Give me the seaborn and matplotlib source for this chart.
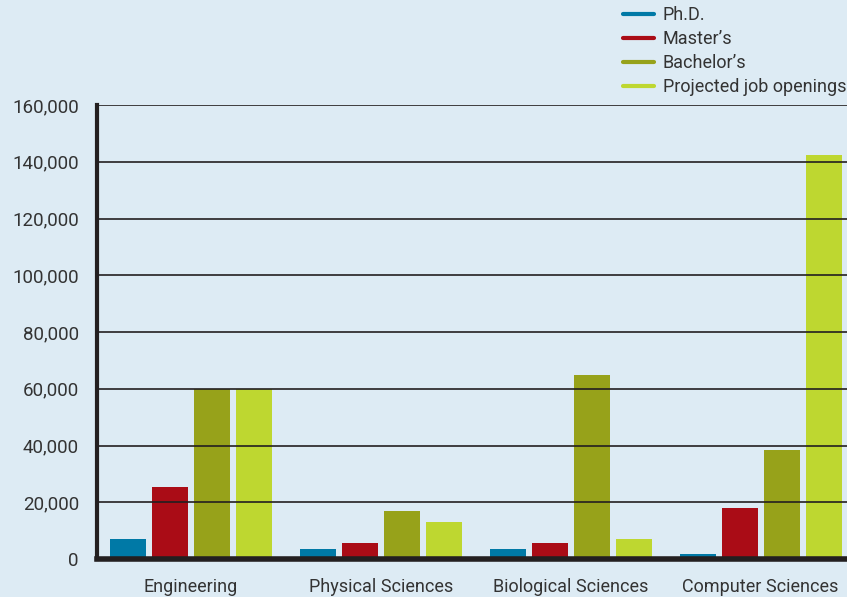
import matplotlib
matplotlib.use("Agg")
import matplotlib.pyplot as plt
import seaborn as sns
import pandas as pd
from matplotlib.lines import Line2D
from matplotlib.ticker import FuncFormatter

categories = ["Engineering", "Physical Sciences", "Biological Sciences", "Computer Sciences"]
series = ["Ph.D.", "Master\u2019s", "Bachelor\u2019s", "Projected job openings"]
phd = [7000, 3700, 3700, 1900]
masters = [25300, 5500, 5500, 17800]
bachelors = [60000, 16800, 64800, 38300]
projected = [60000, 12900, 6900, 142500]
colors = ["#0079A6", "#AA0C16", "#97A21A", "#BED730"]

rows = []
for s, vals in zip(series, [phd, masters, bachelors, projected]):
    for c, v in zip(categories, vals):
        rows.append({"Field": c, "Degree": s, "Value": v})
df = pd.DataFrame(rows)

bg = "#DDEBF4"
dark = "#231F20"
sns.set_style("white")
plt.rcParams["font.family"] = ["Roboto", "DejaVu Sans"]

fig = plt.figure(figsize=(8.47, 5.97), dpi=100, facecolor=bg)
ax = fig.add_axes([97/847, (597-559)/597, 1 - 97/847, (559-105)/597])
ax.set_facecolor(bg)

sns.barplot(data=df, x="Field", y="Value", hue="Degree", order=categories,
            hue_order=series, palette=colors, width=0.884, gap=0.143,
            ax=ax, legend=False, saturation=1, linewidth=0, edgecolor="none")

ax.set_ylim(0, 160000)
ax.set_xlim(-0.495, 3.455)
ax.set_yticks(range(0, 160001, 20000))
ax.yaxis.set_major_formatter(FuncFormatter(lambda v, p: f"{int(v):,}"))
ax.set_axisbelow(False)
ax.grid(axis="y", color=dark, linewidth=1.2, zorder=5)
ax.grid(axis="x", visible=False)
ax.set_xlabel("")
ax.set_ylabel("")
ax.tick_params(axis="both", length=0, labelsize=13, colors="#333333")
ax.tick_params(axis="y", pad=13, labelsize=13.5)
ax.tick_params(axis="x", pad=14)
for sp in ["top", "right"]:
    ax.spines[sp].set_visible(False)
ax.spines["left"].set_color(dark)
ax.spines["left"].set_linewidth(3)
ax.spines["bottom"].set_color(dark)
ax.spines["bottom"].set_linewidth(4)
ax.spines["left"].set_zorder(6)
ax.spines["bottom"].set_zorder(6)

handles = [Line2D([0], [0], color=c, linewidth=3) for c in colors]
leg = fig.legend(handles, series, loc="upper left", bbox_to_anchor=(623/847, 1 - 6/597),
                 frameon=False, fontsize=13, handlelength=1.7, handletextpad=0.5,
                 labelspacing=0.33, borderaxespad=0.0, borderpad=0.0)
for t in leg.get_texts():
    t.set_color("#333333")

fig.savefig("out.png", dpi=100, facecolor=bg)
